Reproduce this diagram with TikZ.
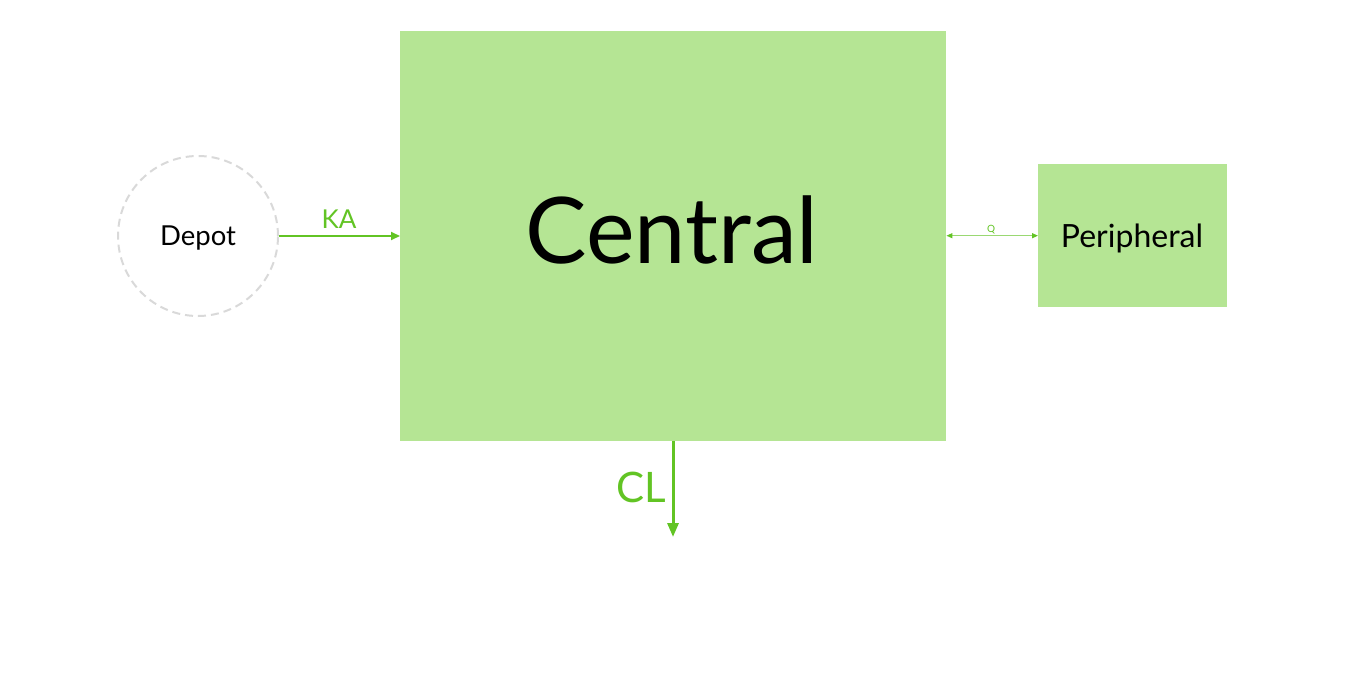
\documentclass[tikz,border=0pt]{standalone}
\usepackage{fontspec}
\setmainfont{Lato}
\usetikzlibrary{arrows.meta}
\definecolor{boxgreen}{HTML}{B5E594}
\definecolor{arrowgreen}{HTML}{62C424}
\definecolor{lightgreen}{HTML}{9AD873}
\definecolor{dashgray}{HTML}{D9D9D9}
\tikzset{
  x=1pt,y=-1pt,
  boxnode/.style={fill=boxgreen,draw=none,inner sep=0pt,anchor=north west},
  flow/.style={draw=arrowgreen,line width=2pt,-{Triangle[length=9pt,width=8pt]}},
  flowlabel/.style={text=arrowgreen,inner sep=0pt}
}
\begin{document}
\begin{tikzpicture}
\useasboundingbox (0,0) rectangle (1348,676);
\node[boxnode,minimum width=546pt,minimum height=410pt] (central) at (400,31) {};
\node[font=\fontsize{92}{92}\selectfont] at (672,230) {Central};
\node[boxnode,minimum width=189pt,minimum height=143pt] (periph) at (1038,164) {};
\node[font=\fontsize{32}{32}\selectfont] at (1132,238) {Peripheral};
\node[circle,draw=dashgray,dash pattern=on 8pt off 5pt,line width=2pt,minimum size=160pt,inner sep=0pt] (depot) at (198,236) {};
\node[font=\fontsize{27.5}{27.5}\selectfont] at (198,238) {Depot};
\draw[flow] (depot.east) -- (central.west |- depot.east) coordinate (kaend);
\node[flowlabel,font=\fontsize{26}{26}\selectfont] (ka) at (339,219) {KA};
\draw[draw=lightgreen,line width=1.2pt,{Triangle[length=6pt,width=5pt,color=arrowgreen]}-{Triangle[length=6pt,width=5pt,color=arrowgreen]}] (central.east |- periph.west) -- (periph.west);
\node[flowlabel,font=\fontsize{10}{10}\selectfont] (q) at (991,230) {Q};
\coordinate (clend) at (673,537);
\draw[flow,line width=3pt,-{Triangle[length=14pt,width=11pt]}] (central.south -| clend) -- (clend);
\node[flowlabel,font=\fontsize{42}{42}\selectfont] (cl) at (641,487) {CL};
\end{tikzpicture}
\end{document}
